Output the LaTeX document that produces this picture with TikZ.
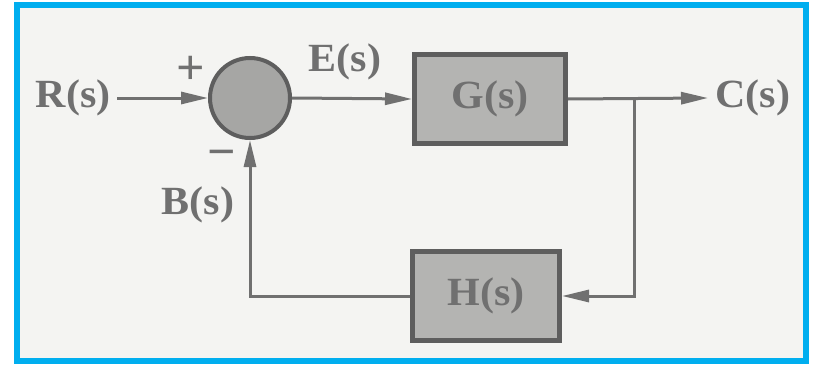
\documentclass[tikz,border=0pt]{standalone}
\usepackage{fontspec}
\setmainfont{Liberation Serif}
\usetikzlibrary{arrows.meta}
\definecolor{frameblue}{HTML}{00AEEF}
\definecolor{paper}{HTML}{F4F4F2}
\definecolor{ink}{HTML}{707070}
\definecolor{boxfill}{HTML}{B4B4B2}
\definecolor{boxedge}{HTML}{5E5E5E}
\newcommand{\sig}[1]{\scalebox{1.05}[1]{\textbf{#1}}}

\begin{document}
\begin{tikzpicture}[x=1pt,y=-1pt,line width=3pt,
  sigline/.style={draw=ink,-{Triangle[length=27pt,width=12pt]}},
  blockbox/.style={draw=boxedge,line width=5pt,fill=boxfill,minimum width=151pt,minimum height=89pt,inner sep=0pt,text=ink,font=\fontsize{40}{44}\selectfont},
  siglabel/.style={text=ink,inner sep=0pt,font=\fontsize{40}{44}\selectfont}]
\path[use as bounding box] (0,0) rectangle (813,364);
\fill[white] (0,0) rectangle (813,364);
\fill[paper] (17,5) rectangle (806,361);
\draw[frameblue,line width=6pt] (17,5) rectangle (806,361);
% forward path
\node[siglabel,anchor=east,inner sep=5pt] (R) at (117,98) {\sig{R(s)}};
\node[circle,draw=boxedge,line width=4pt,fill=boxfill!92!black,minimum size=80pt,inner sep=0pt] (sum) at (250,98) {};
\node[blockbox] (G) at (490,99) {\sig{G(s)}};
\node[siglabel,anchor=west,inner sep=6pt] (C) at (708,98) {\sig{C(s)}};
\coordinate (branch) at (634,98);
% feedback path
\node[blockbox,minimum width=147pt] (H) at (486,296) {\sig{H(s)}};
\draw[sigline] (R.east) -- (sum.west);
\draw[sigline] (sum.east) -- (G.west);
\draw[sigline] (G.east) -- (C.west);
\draw[sigline] (branch) |- (H.east);
\draw[sigline] (H.west) -| (sum.south);
% signs and signal names
\node[siglabel,font=\fontsize{50}{54}\selectfont] (plus) at (191,70) {\textbf{+}};
\node[siglabel,font=\fontsize{50}{54}\selectfont] (minus) at (222,159) {\textbf{−}};
\node[siglabel] (E) at (345,62) {\sig{E(s)}};
\node[siglabel] (B) at (198,205) {\sig{B(s)}};
\end{tikzpicture}
\end{document}
